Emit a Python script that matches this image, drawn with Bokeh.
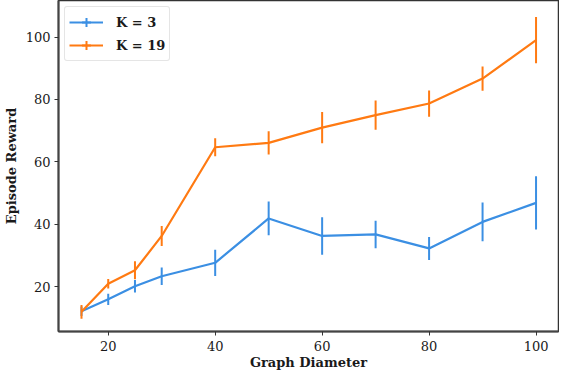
import math
from bokeh.plotting import figure
from bokeh.models import ColumnDataSource, Legend, LegendItem, Range1d, FixedTicker
from bokeh.embed import file_html
from bokeh.resources import INLINE

diameters = [15, 20, 25, 30, 40, 50, 60, 70, 80, 90, 100]
k3_mean = [12.2, 16.0, 20.2, 23.4, 27.7, 41.9, 36.3, 36.8, 32.3, 40.8, 46.9]
k3_err = [1.5, 1.8, 2.0, 2.8, 4.2, 5.4, 6.0, 4.4, 3.7, 6.2, 8.5]
k19_mean = [12.0, 21.0, 25.3, 36.3, 64.7, 66.1, 71.0, 75.0, 78.7, 86.7, 99.0]
k19_err = [2.2, 1.5, 2.9, 3.2, 2.9, 3.7, 5.0, 4.7, 4.2, 3.9, 7.4]
x_ticks = [20, 40, 60, 80, 100]
y_ticks = [20, 40, 60, 80, 100]

BLUE = "#3b8fe3"
ORANGE = "#ff7a12"
FONT = "DejaVu Serif"
TXT = "#1a1a1a"

p = figure(width=559, height=372, output_backend="svg", toolbar_location=None,
           x_range=Range1d(10.7, 104.2), y_range=Range1d(5.7, 111.7),
           min_border_left=53, min_border_right=1, min_border_top=0, min_border_bottom=38)
p.grid.visible = False
p.outline_line_color = "#333333"
p.outline_line_width = 1.5
p.background_fill_color = "white"
p.border_fill_color = "white"

for ax in (p.xaxis[0], p.yaxis[0]):
    ax.axis_line_color = "#444444"
    ax.axis_line_width = 2
    ax.major_tick_line_color = "#333333"
    ax.major_tick_in = 0
    ax.major_tick_out = 4
    ax.minor_tick_line_color = None
    ax.major_label_text_font = FONT
    ax.major_label_text_font_size = "13px"
    ax.major_label_text_color = TXT
    ax.axis_label_text_font = FONT
    ax.axis_label_text_font_size = "13px"
    ax.axis_label_text_font_style = "bold"
    ax.axis_label_text_color = TXT

p.xaxis[0].ticker = FixedTicker(ticks=x_ticks)
p.yaxis[0].ticker = FixedTicker(ticks=y_ticks)
p.xaxis[0].axis_label = "Graph Diameter"
p.yaxis[0].axis_label = "Episode Reward"
p.xaxis[0].axis_label_standoff = 1
p.yaxis[0].axis_label_standoff = 4
p.xaxis[0].major_label_standoff = 5
p.yaxis[0].major_label_standoff = 4

items = []
for label, mean, err, color in (("K = 3", k3_mean, k3_err, BLUE),
                                ("K = 19", k19_mean, k19_err, ORANGE)):
    src = ColumnDataSource(dict(
        x=diameters, y=mean,
        lo=[m - e for m, e in zip(mean, err)],
        hi=[m + e for m, e in zip(mean, err)]))
    ln = p.line("x", "y", source=src, line_color=color, line_width=2.2)
    p.segment(x0="x", y0="lo", x1="x", y1="hi", source=src,
              line_color=color, line_width=2)
    dummy = p.scatter(x=[math.nan], y=[math.nan], marker="cross", size=16,
                      line_color=color, line_width=2)
    items.append(LegendItem(label=label, renderers=[ln, dummy]))

legend = Legend(items=items, location="top_left",
                label_text_font=FONT, label_text_font_size="13px",
                label_text_font_style="bold", label_text_color=TXT,
                border_line_color="#cccccc", border_line_width=1,
                border_radius=3, padding=4, spacing=1,
                margin=6, glyph_width=34, glyph_height=22,
                label_standoff=13, background_fill_alpha=0.9)
p.add_layout(legend)

open("out.html", "w").write(file_html(p, INLINE))
